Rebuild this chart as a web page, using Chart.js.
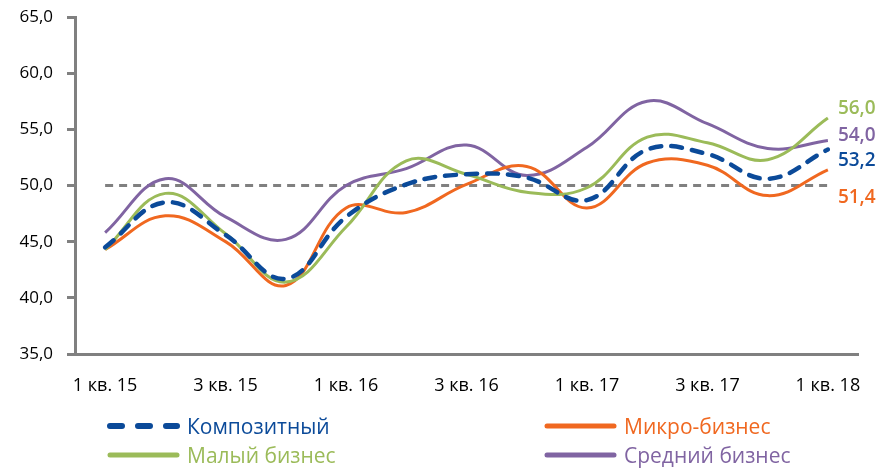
<!DOCTYPE html>
<html>
<head>
<meta charset="utf-8">
<script src="https://cdn.jsdelivr.net/npm/chart.js@4/dist/chart.umd.min.js"></script>
<style>
  html, body { margin: 0; padding: 0; background: #fff; }
  #wrap { position: relative; width: 887px; height: 468px; }
  #c { position: absolute; left: 0; top: 0; }
  .leg { position: absolute; display: flex; align-items: center; height: 28px; line-height: 28px; font-family: "Open Sans", sans-serif; font-size: 21px; white-space: nowrap; }
  .leg svg { margin-right: 7px; }
</style>
</head>
<body>
<div id="wrap">
  <canvas id="c" width="887" height="468"></canvas>
  <div id="legend"></div>
</div>
<script>
const quarters = ["1 кв. 15","2 кв. 15","3 кв. 15","4 кв. 15","1 кв. 16","2 кв. 16","3 кв. 16","4 кв. 16","1 кв. 17","2 кв. 17","3 кв. 17","4 кв. 17","1 кв. 18"];
const composite = [44.5, 48.5, 45.6, 41.7, 47.2, 50.1, 51.0, 50.7, 48.7, 53.2, 52.8, 50.6, 53.2];
const micro     = [44.3, 47.3, 45.0, 41.1, 48.0, 47.6, 50.1, 51.7, 48.0, 52.0, 51.8, 49.1, 51.4];
const small     = [44.3, 49.3, 45.7, 41.4, 46.3, 52.2, 51.0, 49.4, 49.8, 54.3, 53.8, 52.3, 56.0];
const medium    = [45.8, 50.6, 47.2, 45.2, 50.0, 51.5, 53.6, 50.9, 53.4, 57.5, 55.5, 53.3, 54.0];
const threshold = [50, 50, 50, 50, 50, 50, 50, 50, 50, 50, 50, 50, 50];
const seriesNames = ["Композитный", "Микро-бизнес", "Малый бизнес", "Средний бизнес"];
const yTicks = [35, 40, 45, 50, 55, 60, 65];

const fmt = v => v.toFixed(1).replace('.', ',');
const C_BLUE = '#0b4a99', C_ORANGE = '#f06820', C_GREEN = '#9bbb59', C_PURPLE = '#8064a2', C_GRAY = '#808080';
const FONT = '"Open Sans", sans-serif';

const endLabels = {
  id: 'endLabels',
  afterDatasetsDraw(chart) {
    const ctx = chart.ctx;
    const offs = { 0: 11, 1: 28, 2: -10, 3: -5 };
    ctx.save();
    ctx.font = '600 19px ' + FONT;
    ctx.textBaseline = 'middle';
    ctx.textAlign = 'left';
    [0, 1, 2, 3].forEach(i => {
      const ds = chart.data.datasets[i];
      const meta = chart.getDatasetMeta(i);
      const pt = meta.data[meta.data.length - 1];
      ctx.fillStyle = ds.borderColor;
      ctx.fillText(fmt(ds.data[ds.data.length - 1]), pt.x + 10, pt.y + offs[i]);
    });
    ctx.restore();
  }
};

const chart = new Chart(document.getElementById('c'), {
  type: 'line',
  data: {
    labels: quarters,
    datasets: [
      { label: seriesNames[0], data: composite, borderColor: C_BLUE, borderWidth: 4.5, borderDash: [11, 10], borderCapStyle: 'round', order: 0 },
      { label: seriesNames[1], data: micro, borderColor: C_ORANGE, borderWidth: 3, order: 2 },
      { label: seriesNames[2], data: small, borderColor: C_GREEN, borderWidth: 3, order: 1 },
      { label: seriesNames[3], data: medium, borderColor: C_PURPLE, borderWidth: 3, order: 3 },
      { label: 'threshold', data: threshold, borderColor: C_GRAY, borderWidth: 3, borderDash: [8, 6], tension: 0, order: 4 }
    ]
  },
  options: {
    responsive: false,
    animation: false,
    devicePixelRatio: 1,
    layout: { padding: { top: 17, right: 29, left: 0, bottom: 0 } },
    elements: { point: { radius: 0 }, line: { tension: 0.4, fill: false } },
    plugins: { legend: { display: false }, tooltip: { enabled: false } },
    scales: {
      x: {
        offset: true,
        grid: { display: false, drawTicks: false },
        border: { display: true, color: C_GRAY, width: 3 },
        afterFit: s => { s.height = 114; s.paddingLeft = 0; s.paddingRight = 0; },
        ticks: {
          autoSkip: false, maxRotation: 0, padding: 21, color: '#000',
          font: { family: FONT, size: 18 },
          callback: (v, i) => (i % 2 === 0 ? quarters[i] : '')
        }
      },
      y: {
        min: 35, max: 65,
        afterBuildTicks: s => { s.ticks = yTicks.map(v => ({ value: v })); },
        afterFit: s => { s.width = 75; s.paddingTop = 0; s.paddingBottom = 0; },
        grid: { drawOnChartArea: false, drawTicks: true, tickLength: 8, color: C_GRAY, lineWidth: 3 },
        border: { display: true, color: C_GRAY, width: 3 },
        ticks: { padding: 14, color: '#000', font: { family: FONT, size: 17 }, callback: v => fmt(v) }
      }
    }
  },
  plugins: [endLabels]
});

// HTML legend built from the chart datasets
const legendBox = document.getElementById('legend');
const legPos = [[104, 426], [541, 426], [104, 455], [541, 455]];
[0, 1, 2, 3].forEach((i, k) => {
  const ds = chart.data.datasets[i];
  const div = document.createElement('div');
  div.className = 'leg';
  div.style.left = legPos[k][0] + 'px';
  div.style.top = (legPos[k][1] - 14) + 'px';
  div.style.color = ds.borderColor;
  const dash = ds.borderDash ? 'stroke-dasharray="12 16"' : '';
  div.innerHTML = '<svg width="76" height="10"><line x1="6" y1="5" x2="73" y2="5" stroke="' + ds.borderColor +
    '" stroke-width="' + (ds.borderDash ? 6 : 5) + '" stroke-linecap="round" ' + dash + '/></svg><span>' + ds.label + '</span>';
  legendBox.appendChild(div);
});
</script>
</body>
</html>
